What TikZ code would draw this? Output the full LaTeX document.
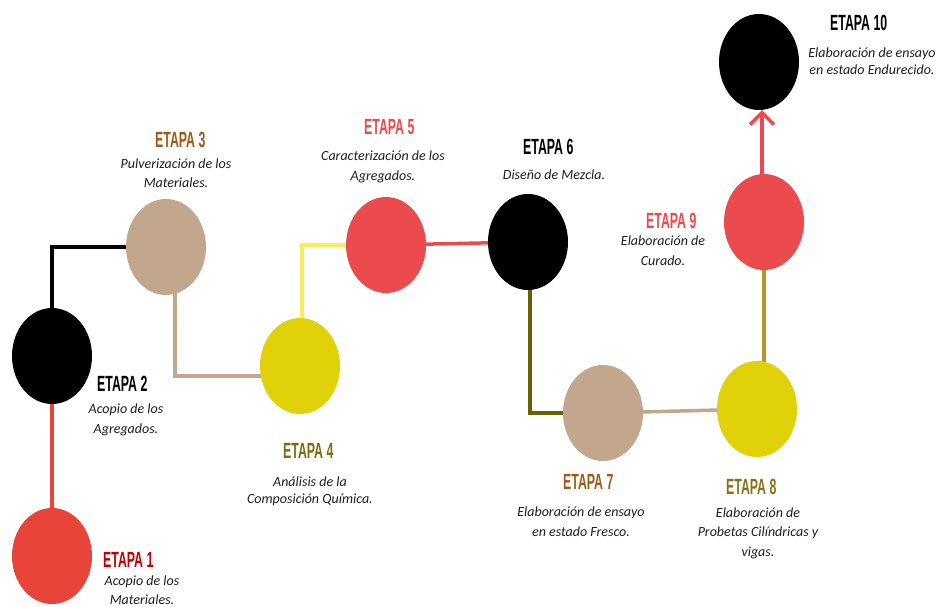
\documentclass[tikz,border=0pt]{standalone}
\usepackage{fontspec}
\setmainfont{Carlito}
\newfontfamily\etapafont{Liberation Sans}[FakeStretch=0.56]
\usetikzlibrary{shapes.geometric,backgrounds,arrows.meta}
\definecolor{redA}{HTML}{E9443A}
\definecolor{redB}{HTML}{EC4B4E}
\definecolor{tan}{HTML}{C2A78D}
\definecolor{yel}{HTML}{E0D109}
\definecolor{yelline}{HTML}{F9EE57}
\definecolor{oliveline}{HTML}{6D5F00}
\definecolor{goldline}{HTML}{B8952B}
\definecolor{tdark}{HTML}{C00000}
\definecolor{tbrown}{HTML}{9E5B17}
\definecolor{tolive}{HTML}{7B6C0B}
\definecolor{tgold}{HTML}{8B7114}
\definecolor{txt}{HTML}{1E1E1E}
\begin{document}
\begin{tikzpicture}[x=1pt,y=-1pt,
  circ/.style={ellipse, minimum width=80pt, minimum height=96pt, inner sep=0pt},
  ttl/.style={font=\etapafont\bfseries\fontsize{22}{22}\selectfont, inner sep=0pt, anchor=west},
  dsc/.style={font=\itshape\fontsize{14}{19.5}\selectfont, align=center, inner sep=0pt, text=txt},
  dscb/.style={dsc, font=\itshape\fontsize{14}{17}\selectfont},
  conn/.style={line width=3.5pt}]
\useasboundingbox (0,0) rectangle (938,607);
% stages
\node[circ, fill=redA]  (e1)  at (52,556) {};
\node[circ, fill=black] (e2)  at (52,356) {};
\node[circ, fill=tan]   (e3)  at (166,247) {};
\node[circ, fill=yel]   (e4)  at (300,366) {};
\node[circ, fill=redB]  (e5)  at (386,245) {};
\node[circ, fill=black] (e6)  at (528,242) {};
\node[circ, fill=tan]   (e7)  at (603,413) {};
\node[circ, fill=yel]   (e8)  at (757,409) {};
\node[circ, fill=redB]  (e9)  at (764,222) {};
\node[circ, fill=black] (e10) at (759,62) {};
% connectors
\begin{scope}[on background layer]
\draw[conn, redA] (e1.center) -- (e2.center);
\draw[conn, black] (e2.center) |- (e3.center);
\draw[conn, tan] ([xshift=9pt]e3.center) |- ([yshift=-10pt]e4.center);
\draw[conn, yelline] ([xshift=2pt]e4.center) |- (e5.center);
\draw[conn, redB] (e5.center) -- (e6.center);
\draw[conn, oliveline] ([xshift=2pt]e6.center) |- (e7.center);
\draw[conn, tan] (e7.center) -- (e8.center);
\draw[conn, goldline] (e8.center -| e9.center) -- (e9.center);
\draw[conn, redB, -{Straight Barb[length=12pt,width=24pt]}] ([xshift=-2pt]e9.center) -- ([xshift=-2pt]e9.center |- e10.south);
\end{scope}
% titles
\node[ttl, text=tdark]  (t1)  at (103,560) {ETAPA 1};
\node[ttl, text=black]  (t2)  at (97,384)  {ETAPA 2};
\node[ttl, text=tbrown] (t3)  at (155,140) {ETAPA 3};
\node[ttl, text=tolive] (t4)  at (283,451) {ETAPA 4};
\node[ttl, text=redB]   (t5)  at (364,127) {ETAPA 5};
\node[ttl, text=black]  (t6)  at (523,147) {ETAPA 6};
\node[ttl, text=tbrown] (t7)  at (563,482) {ETAPA 7};
\node[ttl, text=tgold]  (t8)  at (726,487) {ETAPA 8};
\node[ttl, text=redB]   (t9)  at (646,221) {ETAPA 9};
\node[ttl, text=black]  (t10) at (830,23)  {ETAPA 10};
% descriptions
\node[dsc]  (d1)  at (142,590) {Acopio de los\\Materiales.};
\node[dsc]  (d2)  at (126,420)   {Acopio de los\\Agregados.};
\node[dsc]  (d3)  at (176,173)   {Pulverización de los\\Materiales.};
\node[dscb] (d4)  at (310,491.5) {Análisis de la\\Composición Química.};
\node[dsc]  (d5)  at (383,167)   {Caracterización de los\\Agregados.};
\node[dsc]  (d6)  at (554,175)   {Diseño de Mezcla.};
\node[dsc]  (d7)  at (581,521.5) {Elaboración de ensayo\\en estado Fresco.};
\node[dsc]  (d8)  at (758,533)   {Elaboración de\\Probetas Cilíndricas y\\vigas.};
\node[dsc]  (d9)  at (663,250.5) {Elaboración de\\Curado.};
\node[dscb] (d10) at (872,61.5)  {Elaboración de ensayo\\en estado Endurecido.};
\end{tikzpicture}
\end{document}
